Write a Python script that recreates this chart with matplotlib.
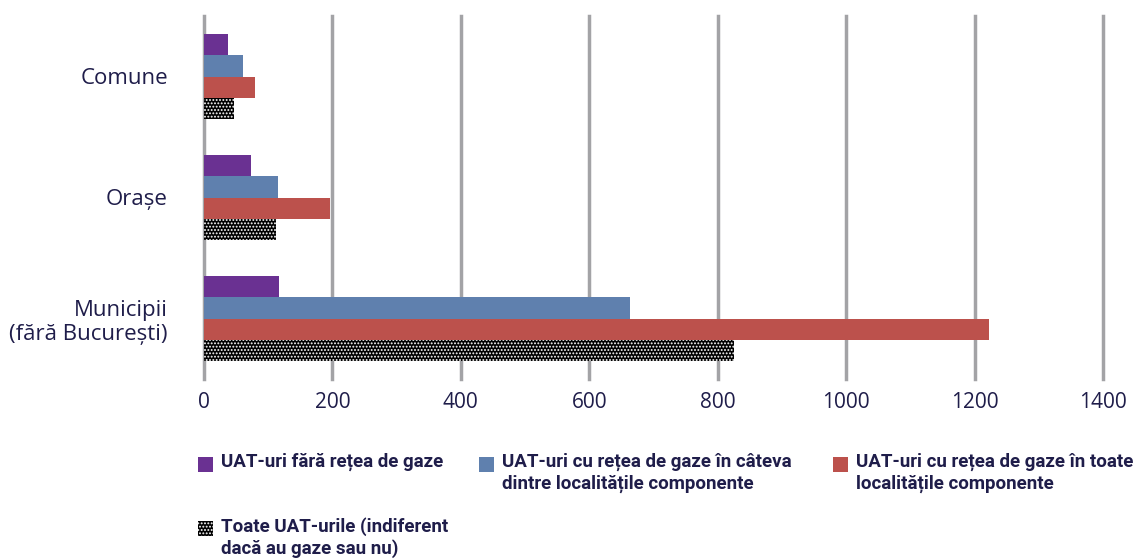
import matplotlib.pyplot as plt
from matplotlib.patches import Rectangle
import numpy as np

plt.rcParams['font.family'] = ['Open Sans', 'DejaVu Sans']
plt.rcParams['hatch.linewidth'] = 0.9

categories = ['Comune', 'Orașe', 'Municipii\n(fără București)']
fara_retea = [37, 73, 117]
cateva_localitati = [61, 115, 664]
toate_localitati = [80, 196, 1222]
toate_uat = [47, 112, 826]

series_labels = ['UAT-uri fără rețea de gaze',
                 'UAT-uri cu rețea de gaze în câteva\ndintre localitățile componente',
                 'UAT-uri cu rețea de gaze în toate\nlocalitățile componente',
                 'Toate UAT-urile (indiferent\ndacă au gaze sau nu)']
ticks = [0, 200, 400, 600, 800, 1000, 1200, 1400]

text_color = '#1f1d4a'
grid_color = '#a3a3a6'
colors = ['#6a3192', '#5f80ae', '#bc514c', 'black']

W, H = 1141, 559
fig = plt.figure(figsize=(W / 100, H / 100), dpi=100)
ax = fig.add_axes([204 / W, 1 - 379 / H, (1103 - 204) / W, (379 - 16) / H])

y = np.arange(len(categories))
h = 0.174
ax.barh(y - 1.5 * h, fara_retea, height=h, color=colors[0], zorder=3)
ax.barh(y - 0.5 * h, cateva_localitati, height=h, color=colors[1], zorder=3)
ax.barh(y + 0.5 * h, toate_localitati, height=h, color=colors[2], zorder=3)
ax.barh(y + 1.5 * h, toate_uat, height=h, facecolor='black', edgecolor='white',
        hatch='.....', linewidth=0, zorder=3)

ax.set_ylim(2.5, -0.5)
ax.set_xlim(0, 1400)
ax.set_xticks(ticks)
ax.set_xticklabels([str(t) for t in ticks])
ax.set_yticks(y)
ax.set_yticklabels(categories, ha='right')
ax.tick_params(axis='both', length=0, labelcolor=text_color)
ax.tick_params(axis='x', pad=9, labelsize=15)
ax.tick_params(axis='y', pad=26, labelsize=16)
ax.xaxis.grid(True, color=grid_color, linewidth=2.5, zorder=0)
for line in ax.get_xgridlines():
    line.set_clip_on(False)
for s in ax.spines.values():
    s.set_visible(False)

# legend drawn by hand: square handle + bold text, laid out as in the original
leg_font = {'family': ['Roboto', 'DejaVu Sans'], 'weight': 'bold', 'size': 13.5}
leg_pos = [(198, 457), (479, 457), (833, 457), (198, 521)]
for (px, py), lab, col in zip(leg_pos, series_labels, colors):
    if col == 'black':
        r = Rectangle((px / W, 1 - (py + 15) / H), 15 / W, 15 / H, transform=fig.transFigure,
                      facecolor='black', edgecolor='white', hatch='.....', linewidth=0)
    else:
        r = Rectangle((px / W, 1 - (py + 15) / H), 15 / W, 15 / H, transform=fig.transFigure,
                      facecolor=col, linewidth=0)
    fig.patches.append(r)
    fig.text((px + 23) / W, 1 - (py - 4) / H, lab, ha='left', va='top', color=text_color,
             linespacing=1.22, fontdict=leg_font)

fig.savefig('out.png', dpi=100)
